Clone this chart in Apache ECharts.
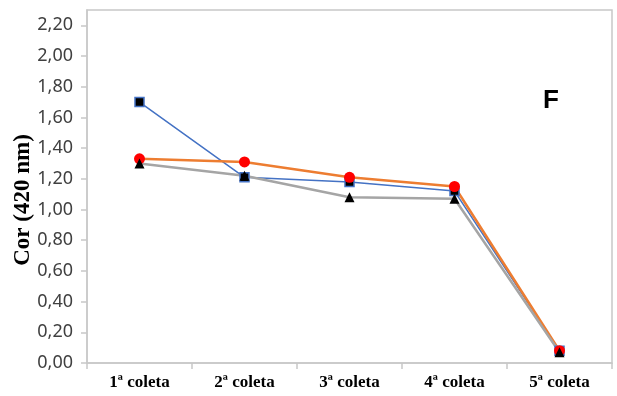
<!DOCTYPE html>
<html>
<head>
<meta charset="utf-8">
<script src="https://cdn.jsdelivr.net/npm/echarts@6/dist/echarts.min.js"></script>
<style>html,body{margin:0;padding:0;background:#fff;}#c{width:617px;height:396px;}</style>
</head>
<body>
<div id="c"></div>
<script>
const categories = ['1ª coleta', '2ª coleta', '3ª coleta', '4ª coleta', '5ª coleta'];
const blueValues = [1.70, 1.21, 1.18, 1.12, 0.08];
const orangeValues = [1.33, 1.31, 1.21, 1.15, 0.08];
const grayValues = [1.30, 1.22, 1.08, 1.07, 0.07];
const yTicks = [0, 0.2, 0.4, 0.6, 0.8, 1.0, 1.2, 1.4, 1.6, 1.8, 2.0, 2.2];
const yTitle = 'Cor (420 nm)';

const chart = echarts.init(document.getElementById('c'), null, {renderer: 'canvas'});
chart.setOption({
  animation: false,
  backgroundColor: '#fff',
  grid: {left: 87, top: 10, right: 5, bottom: 33, show: true, borderColor: '#c8c8c8', borderWidth: 1.5},
  graphic: [{
    type: 'text', left: 543, top: 88,
    style: {text: 'F', font: 'bold 26px "Liberation Sans", Arial, sans-serif', fill: '#000'}
  }, {
    type: 'text', x: 23, y: 200, rotation: Math.PI / 2,
    style: {text: yTitle, font: 'bold 23px "Liberation Serif", "Times New Roman", serif', fill: '#000', align: 'center', verticalAlign: 'middle'}
  }],
  xAxis: {
    type: 'category', data: categories, boundaryGap: true,
    axisLine: {lineStyle: {color: '#c8c8c8', width: 1.5}},
    axisTick: {show: true, length: 6, lineStyle: {color: '#c8c8c8', width: 1.5}},
    axisLabel: {margin: 11, color: '#000', fontFamily: '"Liberation Serif", "Times New Roman", serif', fontWeight: 'bold', fontSize: 17}
  },
  yAxis: {
    type: 'value', min: 0, max: 2.3, interval: 0.1,
    axisLine: {show: true, lineStyle: {color: '#c8c8c8', width: 1.5}},
    axisTick: {show: true, length: 6, customValues: yTicks, lineStyle: {color: '#c8c8c8', width: 1.5}},
    splitLine: {show: false},
    axisLabel: {
      customValues: yTicks, margin: 14, color: '#404040', fontFamily: '"Noto Sans", "Open Sans", sans-serif', fontSize: 18,
      formatter: v => v.toFixed(2).replace('.', ',')
    }
  },
  series: [
    {
      type: 'line', data: blueValues, symbol: 'rect', symbolSize: 9,
      lineStyle: {color: '#4472C4', width: 1.5},
      itemStyle: {color: '#000', borderColor: '#4472C4', borderWidth: 1.5}
    },
    {
      type: 'line', data: orangeValues, symbol: 'circle', symbolSize: 11,
      lineStyle: {color: '#ED7D31', width: 2.5},
      itemStyle: {color: '#FF0000', borderColor: '#FF0000', borderWidth: 0}
    },
    {
      type: 'line', data: grayValues, symbol: 'triangle', symbolSize: 10,
      lineStyle: {color: '#A5A5A5', width: 2.5},
      itemStyle: {color: '#000', borderWidth: 0}
    }
  ]
});
</script>
</body>
</html>
